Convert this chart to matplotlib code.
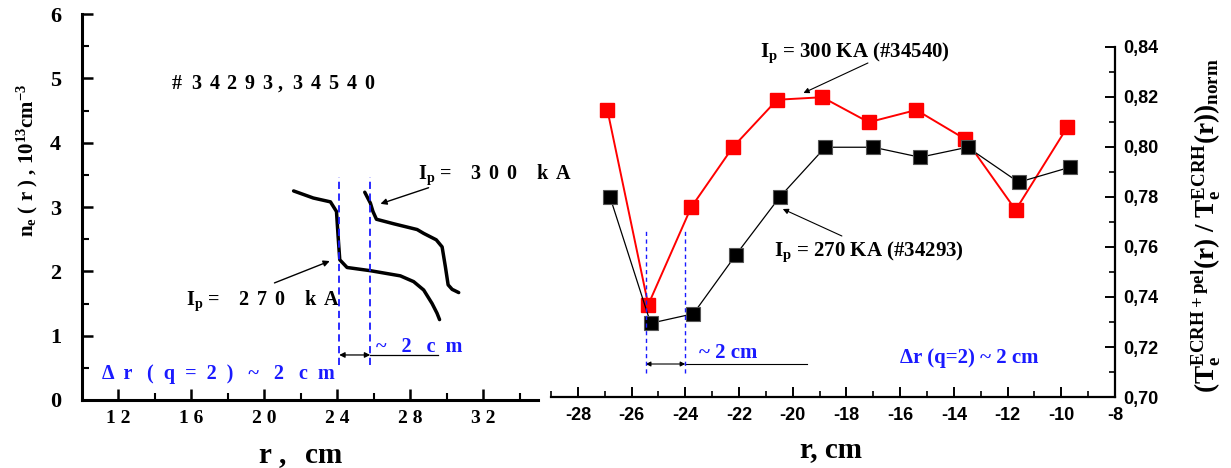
import matplotlib
matplotlib.use("Agg")
import matplotlib.pyplot as plt
from matplotlib.ticker import FixedLocator, MultipleLocator

plt.rcParams['mathtext.fontset'] = 'custom'
plt.rcParams['mathtext.rm'] = 'Liberation Serif:bold'
plt.rcParams['mathtext.it'] = 'Liberation Serif:bold'
plt.rcParams['mathtext.bf'] = 'Liberation Serif:bold'
plt.rcParams['mathtext.default'] = 'rm'
plt.rcParams['axes.unicode_minus'] = False

# ---------------- data: left panel (density profiles) ----------------
r_270 = [21.6, 22.68, 23.62, 23.95, 24.04, 24.13, 24.53, 25.81, 27.45, 28.18, 28.73, 29.19, 29.46, 29.6]
n_270 = [3.25, 3.14, 3.08, 2.93, 2.54, 2.18, 2.06, 2.01, 1.93, 1.84, 1.71, 1.50, 1.35, 1.25]
r_300 = [25.5, 25.81, 25.95, 26.14, 27.08, 28.37, 28.73, 29.42, 29.74, 29.92, 30.07, 30.29, 30.65]
n_300 = [3.23, 3.06, 2.93, 2.81, 2.74, 2.65, 2.59, 2.49, 2.38, 2.07, 1.79, 1.72, 1.67]
left_xticks = [12, 16, 20, 24, 28, 32]
left_xticklabels = ["1 2", "1 6", "2 0", "2 4", "2 8", "3 2"]
left_yticks = [0, 1, 2, 3, 4, 5, 6]
left_q2_lines = [24.1, 25.8]

# ---------------- data: right panel (Te ratio) ----------------
r_red = [-26.9, -25.38, -23.78, -22.23, -20.58, -18.9, -17.17, -15.4, -13.57, -11.7, -9.78]
v_red = [0.8148, 0.7369, 0.7759, 0.7999, 0.8189, 0.8199, 0.8099, 0.8148, 0.8031, 0.7748, 0.8079]
r_blk = [-26.8, -25.29, -23.7, -22.12, -20.49, -18.79, -17.0, -15.26, -13.49, -11.59, -9.68]
v_blk = [0.7799, 0.7295, 0.7333, 0.7568, 0.7799, 0.7999, 0.7999, 0.7959, 0.7999, 0.7859, 0.7919]
right_xticks = [-28, -26, -24, -22, -20, -18, -16, -14, -12, -10, -8]
right_yticks = [0.70, 0.72, 0.74, 0.76, 0.78, 0.80, 0.82, 0.84]
right_q2_lines = [-25.47, -24.0]

serif = 'Liberation Serif'
sans = 'Liberation Sans'
blue = '#1a1aff'
SB = dict(fontfamily=serif, fontweight='bold')
T = r" $\,$"   # letter-spacing gap (space + thin space)

fig = plt.figure(figsize=(12.31, 4.68), dpi=100)

# ================= LEFT PANEL =================
axL = fig.add_axes([0.0666, 0.1453, 0.3705, 0.8247])
axL.plot(r_270, n_270, color='black', lw=2.5, solid_capstyle='round', solid_joinstyle='round')
axL.plot(r_300, n_300, color='black', lw=2.5, solid_capstyle='round', solid_joinstyle='round')
axL.set_xlim(10, 35)
axL.set_ylim(0, 6)
for s in ['top', 'right']:
    axL.spines[s].set_visible(False)
for s in ['left', 'bottom']:
    axL.spines[s].set_linewidth(2.2)
axL.xaxis.set_major_locator(FixedLocator(left_xticks))
axL.xaxis.set_minor_locator(FixedLocator([14, 18, 22, 26, 30, 34]))
axL.set_xticklabels(left_xticklabels, fontsize=14, **SB)
axL.yaxis.set_major_locator(FixedLocator(left_yticks))
axL.yaxis.set_minor_locator(FixedLocator([0.5, 1.5, 2.5, 3.5, 4.5, 5.5]))
axL.set_yticklabels([str(t) for t in left_yticks], fontsize=16, **SB)
axL.tick_params(which='major', direction='in', length=8, width=1.8)
axL.tick_params(which='minor', direction='in', length=5, width=1.5)
axL.tick_params(axis='y', which='major', pad=15)
axL.tick_params(axis='x', which='major', pad=7)

axL.set_xlabel(r"r ,  $\,$cm", fontsize=21, va='baseline', **SB)
axL.xaxis.set_label_coords(0.478, -0.163)
axL.set_ylabel(r"n$_{e}$ ( r ) , 10$^{13}$cm$^{-3}$", fontsize=15, **SB)
axL.yaxis.set_label_coords(-0.092, 0.62)

for xv in left_q2_lines:
    axL.plot([xv, xv], [0.55, 3.47], color=blue, lw=1.3, ls=(0, (4, 2.5)))
axL.annotate('', xy=(left_q2_lines[0], 0.70), xytext=(left_q2_lines[1], 0.70),
             arrowprops=dict(arrowstyle='<|-|>', color='black', lw=0.9, mutation_scale=8,
                             shrinkA=0, shrinkB=0))
axL.plot([left_q2_lines[1], 29.5], [0.70, 0.70], color='black', lw=0.9)
axL.text(26.1, 0.82, "~   2   c  m", color=blue, fontsize=14.5, ha='left', va='center', **SB)
axL.text(11.1, 0.40, "Δ  r   (  q  =  2  )   ~   2   c  m", color=blue, fontsize=14.5,
         ha='left', va='center', **SB)
axL.text(14.9, 4.92, "#  3" + T + "4" + T + "2" + T + "9" + T + "3 ,  3" + T + "4" + T + "5" + T + "4" + T + "0",
         color='black', fontsize=14.5, ha='left', va='center', **SB)
axL.text(15.7, 1.55, r"I$_{p}$ =    2" + T + "7" + T + "0    k" + T + "A", color='black', fontsize=14.5,
         ha='left', va='center', **SB)
axL.annotate('', xy=(23.58, 2.16), xytext=(20.55, 1.82),
             arrowprops=dict(arrowstyle='-|>', color='black', lw=1.0, mutation_scale=9,
                             shrinkA=0, shrinkB=0))
axL.text(28.4, 3.50, r"I$_{p}$ =    3" + T + "0" + T + "0    k" + T + "A", color='black', fontsize=14.5,
         ha='left', va='center', clip_on=False, zorder=10, **SB)
axL.annotate('', xy=(26.36, 3.05), xytext=(29.0, 3.30),
             arrowprops=dict(arrowstyle='-|>', color='black', lw=1.0, mutation_scale=9,
                             shrinkA=0, shrinkB=0))

# ================= RIGHT PANEL =================
axR = fig.add_axes([0.4476, 0.1517, 0.4582, 0.7479])
axR.patch.set_visible(False)
axR.plot(r_red, v_red, color='red', lw=1.4, marker='s', ms=9.5, mfc='red', mec='red', zorder=3)
axR.plot(r_blk, v_blk, color='black', lw=0.9, marker='s', ms=9.5, mfc='black', mec='#555555',
         mew=0.8, zorder=4)
axR.set_xlim(-29, -8)
axR.set_ylim(0.70, 0.84)
for s in ['top', 'left']:
    axR.spines[s].set_visible(False)
for s in ['right', 'bottom']:
    axR.spines[s].set_linewidth(1.6)
axR.yaxis.tick_right()
axR.yaxis.set_label_position('right')
axR.xaxis.set_major_locator(FixedLocator(right_xticks))
axR.xaxis.set_minor_locator(MultipleLocator(1))
axR.set_xticklabels([str(t) for t in right_xticks], fontfamily=sans, fontweight='bold', fontsize=13)
axR.yaxis.set_major_locator(FixedLocator(right_yticks))
axR.yaxis.set_minor_locator(MultipleLocator(0.01))
axR.set_yticklabels([f"{t:.2f}".replace('.', ',') for t in right_yticks],
                    fontfamily=sans, fontweight='bold', fontsize=13)
axR.tick_params(which='major', direction='in', length=7, width=1.4)
axR.tick_params(which='minor', direction='in', length=4, width=1.2)
axR.tick_params(axis='x', which='major', pad=7)
axR.tick_params(axis='y', which='major', pad=6)

axR.set_xlabel("r, cm", fontsize=21, va='baseline', **SB)
axR.xaxis.set_label_coords(0.497, -0.171)
axR.set_ylabel(r"(T$_{e}^{ECRH + pel}$(r) / T$_{e}^{ECRH}$(r))$_{norm}$", fontsize=19.5,
               rotation=90, **SB)
axR.yaxis.set_label_coords(1.132, 0.49)

for xv in right_q2_lines:
    axR.plot([xv, xv], [0.7096, 0.7672], color=blue, lw=1.0, ls=(0, (3, 2.5)), zorder=5)
axR.annotate('', xy=(right_q2_lines[0], 0.7132), xytext=(right_q2_lines[1], 0.7132),
             arrowprops=dict(arrowstyle='<|-|>', color='black', lw=0.8, mutation_scale=7,
                             shrinkA=0, shrinkB=0))
axR.plot([right_q2_lines[1], -19.47], [0.7132, 0.7132], color='black', lw=0.8)
axR.text(-23.5, 0.7178, "~ 2 cm", color=blue, fontsize=15, ha='left', va='center', **SB)
axR.text(-16.0, 0.7158, "Δr (q=2) ~ 2 cm", color=blue, fontsize=15, ha='left', va='center', **SB)

axR.text(-21.2, 0.8375, r"I$_{p}$ = 300 KA (#34540)", color='black', fontsize=15,
         ha='left', va='center', **SB)
axR.annotate('', xy=(-19.6, 0.8216), xytext=(-17.2, 0.8336),
             arrowprops=dict(arrowstyle='-|>', color='black', lw=0.8, mutation_scale=8,
                             shrinkA=0, shrinkB=0))
axR.text(-20.7, 0.7580, r"I$_{p}$ = 270 KA (#34293)", color='black', fontsize=15,
         ha='left', va='center', **SB)
axR.annotate('', xy=(-20.37, 0.7752), xytext=(-18.17, 0.7644),
             arrowprops=dict(arrowstyle='-|>', color='black', lw=0.8, mutation_scale=8,
                             shrinkA=0, shrinkB=0))

fig.savefig("out.png", dpi=100)
